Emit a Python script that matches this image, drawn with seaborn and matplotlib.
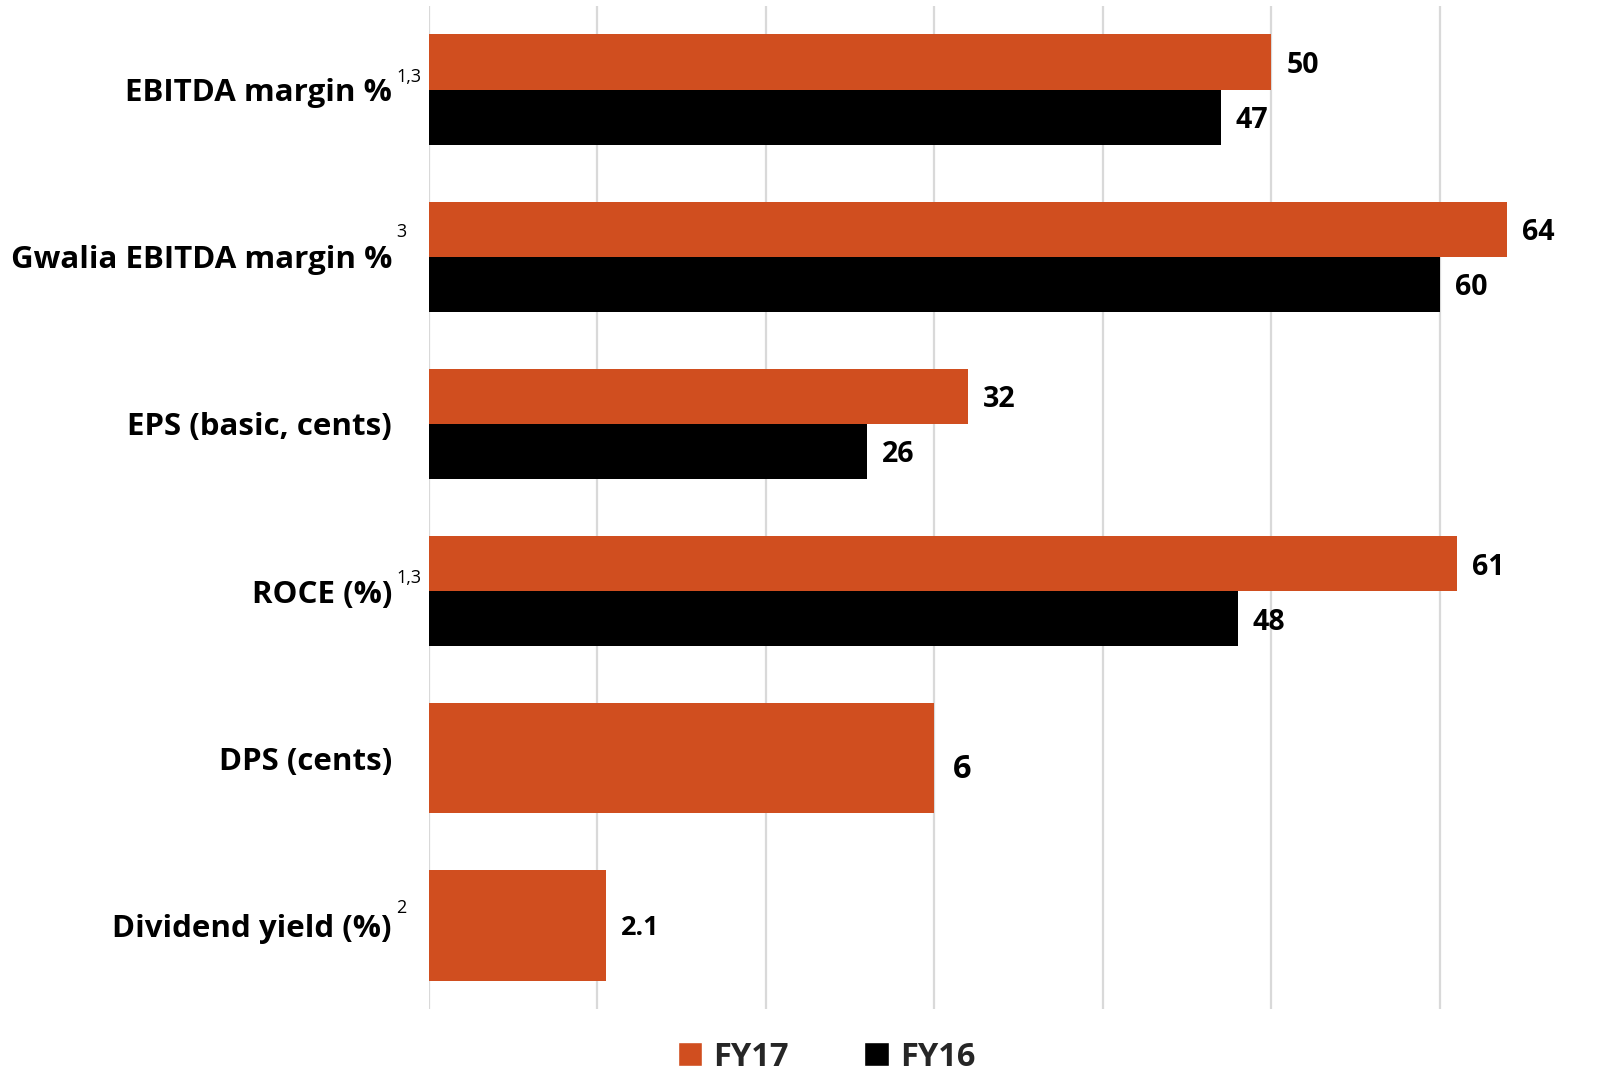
import matplotlib
matplotlib.use("Agg")
import matplotlib.pyplot as plt
from matplotlib.patches import Patch
import seaborn as sns
import pandas as pd

# Key metrics, FY17 vs FY16
categories = ["EBITDA margin %", "Gwalia EBITDA margin %", "EPS (basic, cents)",
              "ROCE (%)", "DPS (cents)", "Dividend yield (%)"]
footnotes = ["1,3", "3", "", "1,3", "", "2"]

# Metrics compared across both years (primary scale)
pair_metrics = ["EBITDA margin %", "Gwalia EBITDA margin %", "EPS (basic, cents)", "ROCE (%)"]
fy17_pair = [50, 64, 32, 61]
fy16_pair = [47, 60, 26, 48]

# FY17-only metrics (drawn on their own scale)
single_metrics = ["DPS (cents)", "Dividend yield (%)"]
fy17_single = [6, 2.1]
single_labels = ["6", "2.1"]

ORANGE = "#D04E1F"
BLACK = "#000000"
GRID = "#D9D9D9"

pair_df = pd.DataFrame({
    "metric": pair_metrics * 2,
    "value": fy17_pair + fy16_pair,
    "year": ["FY17"] * len(pair_metrics) + ["FY16"] * len(pair_metrics),
})
single_df = pd.DataFrame({"metric": single_metrics, "value": fy17_single})

sns.set_theme(style="white")
plt.rcParams["font.family"] = ["Open Sans", "DejaVu Sans"]

W, H, DPI = 1605, 1071, 100
fig = plt.figure(figsize=(W / DPI, H / DPI), dpi=DPI)
ax = fig.add_axes([429 / W, 1 - 1009 / H, 1 - 429 / W, (1009 - 6) / H])

PX = 72 / DPI  # points per pixel

sns.barplot(data=pair_df, y="metric", x="value", hue="year", order=categories,
            hue_order=["FY17", "FY16"], palette=[ORANGE, BLACK], orient="h",
            width=0.66, dodge=True, saturation=1, ax=ax, legend=False,
            linewidth=0, zorder=3)

XMAX = 69.8
ax.set_xlim(0, XMAX)
ax.set_ylim(5.5, -0.5)
ax.set_xticks(range(0, 70, 10))
ax.xaxis.grid(True, color=GRID, linewidth=1.6, zorder=0)
ax.yaxis.grid(False)
ax.set_xticklabels([])
ax.tick_params(axis="both", length=0)
ax.set_yticklabels([])
ax.set_xlabel("")
ax.set_ylabel("")
for s in ax.spines.values():
    s.set_visible(False)

# FY17-only metrics on a secondary scale (5x)
ax2 = ax.twiny()
sns.barplot(data=single_df, y="metric", x="value", order=categories,
            color=ORANGE, orient="h", width=0.66, saturation=1, ax=ax2,
            linewidth=0, zorder=3)
ax2.set_xlim(0, XMAX / 5)
ax2.set_ylim(5.5, -0.5)
ax2.set_xticks([])
ax2.set_yticklabels([])
ax2.set_xlabel("")
ax2.set_ylabel("")
ax2.tick_params(axis="both", length=0)
ax2.grid(False)
for s in ax2.spines.values():
    s.set_visible(False)


def label_bars(axis, container, texts, size, dx=16, dy=0):
    for patch, txt in zip(container.patches, texts):
        xe = patch.get_x() + patch.get_width()
        yc = patch.get_y() + patch.get_height() / 2
        axis.annotate(txt, xy=(xe, yc), xytext=(dx * PX, -dy * PX),
                      textcoords="offset points", ha="left", va="center_baseline",
                      fontsize=size, fontweight="bold", color="black", zorder=5)


fmt = lambda v: f"{v:g}"
label_bars(ax, ax.containers[0], [fmt(v) for v in fy17_pair], 20.5, dx=15)
label_bars(ax, ax.containers[1], [fmt(v) for v in fy16_pair], 20.5, dx=15)
label_bars(ax2, ax2.containers[0], single_labels[:1] + [""], 23.5, dx=18, dy=7)
label_bars(ax2, ax2.containers[0], [""] + single_labels[1:], 19.5, dx=15, dy=0)

# Category labels with footnote markers
sup_dy = {"1,3": 13, "3": 25, "2": 17}
for i, (cat, note) in enumerate(zip(categories, footnotes)):
    ax.annotate(cat, xy=(0, i), xycoords=("axes fraction", "data"),
                xytext=(-37 * PX, 0), textcoords="offset points",
                ha="right", va="center_baseline", fontsize=22.5,
                fontweight="bold", color="black", annotation_clip=False)
    if note:
        ax.annotate(note, xy=(0, i), xycoords=("axes fraction", "data"),
                    xytext=(-33 * PX, sup_dy[note] * PX), textcoords="offset points",
                    ha="left", va="center", fontsize=13, color="black",
                    annotation_clip=False)

handles = [Patch(facecolor=ORANGE, label="FY17"), Patch(facecolor=BLACK, label="FY16")]
fig.legend(handles=handles, loc="center", bbox_to_anchor=(0.515, 1 - 1057 / H),
           ncol=2, frameon=False, handlelength=0.75, handleheight=0.75,
           handletextpad=0.35, columnspacing=2.3,
           prop={"size": 23.5, "weight": "bold"})

fig.savefig("out.png", dpi=DPI)
